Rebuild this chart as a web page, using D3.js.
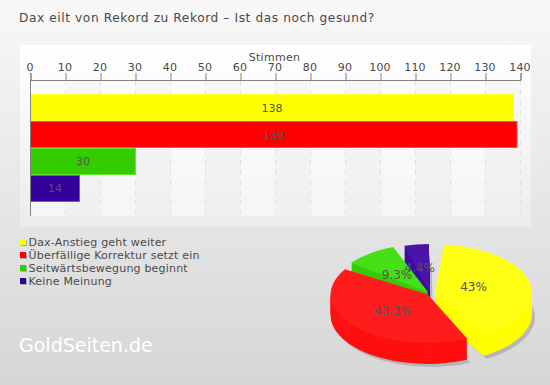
<!DOCTYPE html>
<html>
<head>
<meta charset="utf-8">
<script src="https://cdn.jsdelivr.net/npm/d3@7"></script>
<style>
html, body { margin: 0; padding: 0; overflow: hidden; }
svg { display: block; }
text { font-family: "DejaVu Sans", sans-serif; fill: #4a4a4a; }
</style>
</head>
<body>
<script>
var categories = ['Dax-Anstieg geht weiter', 'Überfällige Korrektur setzt ein', 'Seitwärtsbewegung beginnt', 'Keine Meinung'];
var votes = [138, 139, 30, 14];
var percents = ['43%', '43.3%', '9.3%', '4.4%'];
var xTicks = d3.range(0, 141, 10);
var barColor = ['#ffff00', '#ff0000', '#33cc00', '#330099'];
var barEdge = ['#ffff33', '#ff4d4d', '#66e033', '#7a55c0'];
var topColor = ['#ffff14', '#ff1c1c', '#46e016', '#4a14a8'];
var sideColor = ['#ffff00', '#ff0f0f', '#38cc08', '#3a0ea0'];
var explode = [5, 3, 3, 2];
var labelNudge = [[-4, -1], [-2, 2], [-5, 0], [-4, -3]];

var width = 550, height = 385;
var plot = {left: 30.5, right: 520.5, top: 80, bottom: 216};

var svg = d3.select('body').append('svg')
  .attr('width', width)
  .attr('height', height);

var defs = svg.append('defs');
function gradient(id, c0, c1) {
  var g = defs.append('linearGradient').attr('id', id)
    .attr('x1', 0).attr('y1', 0).attr('x2', 0).attr('y2', 1);
  g.append('stop').attr('offset', 0).attr('stop-color', c0);
  g.append('stop').attr('offset', 1).attr('stop-color', c1);
}
gradient('bg', '#f8f8f8', '#d6d6d6');
gradient('panel', '#ffffff', '#ececec');

svg.append('rect').attr('width', width).attr('height', height).attr('fill', 'url(#bg)');
svg.append('rect').attr('x', 20).attr('y', 45).attr('width', 511).attr('height', 182).attr('fill', 'url(#panel)');

svg.append('text')
  .attr('x', 19).attr('y', 22)
  .style('font-size', '12.2px')
  .style('letter-spacing', '0.58px')
  .text('Dax eilt von Rekord zu Rekord – Ist das noch gesund?');

// scales
var x = d3.scaleLinear().domain([0, 140]).range([plot.left, plot.right]);
var y = d3.scaleBand().domain(categories).range([plot.top, plot.bottom]).paddingInner(0).paddingOuter(0.52);

// stripes + grid
svg.append('rect')
  .attr('x', plot.left).attr('y', plot.top)
  .attr('width', plot.right - plot.left).attr('height', plot.bottom - plot.top)
  .attr('fill', '#fff').attr('opacity', 0.45);

svg.append('g').selectAll('rect')
  .data(xTicks.slice(0, -1).filter(d => d % 20 !== 0))
  .enter()
  .append('rect')
  .attr('x', d => x(d))
  .attr('y', plot.top)
  .attr('width', d => x(d + 10) - x(d))
  .attr('height', plot.bottom - plot.top)
  .attr('fill', '#000')
  .attr('opacity', 0.025);

svg.append('g').selectAll('line')
  .data(xTicks.slice(1))
  .enter()
  .append('line')
  .attr('x1', d => x(d)).attr('x2', d => x(d))
  .attr('y1', plot.top).attr('y2', plot.bottom)
  .attr('stroke', '#e2e2e2')
  .attr('stroke-dasharray', '5,5');

// bars
svg.append('g').selectAll('rect')
  .data(votes)
  .enter()
  .append('rect')
  .attr('x', x(0))
  .attr('y', (d, i) => y(categories[i]) + 0.5)
  .attr('width', d => x(d) - x(0))
  .attr('height', y.bandwidth() - 1)
  .attr('fill', (d, i) => barColor[i])
  .attr('stroke', (d, i) => barEdge[i]);

svg.append('g').selectAll('text')
  .data(votes)
  .enter()
  .append('text')
  .attr('x', d => x(d / 2))
  .attr('y', (d, i) => y(categories[i]) + y.bandwidth() / 2 + 4)
  .attr('text-anchor', 'middle')
  .style('font-size', '11px')
  .style('fill', '#555')
  .text(d => d);

// axis
var xAxis = d3.axisTop(x).tickValues(xTicks).tickSize(7).tickPadding(2);
var axisG = svg.append('g')
  .attr('transform', `translate(0,${plot.top})`)
  .call(xAxis);
axisG.selectAll('path, line').attr('stroke', '#808080');
axisG.selectAll('text')
  .attr('dx', -1)
  .style('font-size', '11px')
  .style('letter-spacing', '0.2px')
  .style('font-family', '"DejaVu Sans", sans-serif');

svg.append('line')
  .attr('x1', plot.left).attr('x2', plot.left)
  .attr('y1', plot.top).attr('y2', plot.bottom)
  .attr('stroke', '#808080');

svg.append('text')
  .attr('x', (plot.left + plot.right) / 2 - 1)
  .attr('y', 61)
  .attr('text-anchor', 'middle')
  .style('font-size', '11px')
  .style('letter-spacing', '0.3px')
  .text('Stimmen');

// legend
var legend = svg.append('g').selectAll('g')
  .data(categories)
  .enter()
  .append('g')
  .attr('transform', (d, i) => `translate(20,${242 + i * 13})`);
legend.append('rect').attr('x', 1).attr('y', -2).attr('width', 6).attr('height', 6).attr('fill', '#aaa');
legend.append('rect').attr('x', 0).attr('y', -3).attr('width', 6).attr('height', 6).attr('fill', (d, i) => barColor[i]);
legend.append('text').attr('x', 8.5).attr('y', 4).style('font-size', '11px').style('letter-spacing', '0.2px').text(d => d);

svg.append('text')
  .attr('x', 19).attr('y', 352)
  .style('font-size', '19px')
  .style('fill', '#fff')
  .text('GoldSeiten.de');

// pie, flattened to look 3d
var cx = 430, cy = 293.5, radius = 97, squash = 0.5, depth = 21;
var start = 5.5 * Math.PI / 180;
var pad = 6 * Math.PI / 180;
var pie = d3.pie().sort(null).startAngle(start).endAngle(start + 2 * Math.PI).padAngle(pad);
var arc = d3.arc().innerRadius(0).outerRadius(radius);
var arcs = pie(votes).map(d => ({
  startAngle: d.startAngle,
  endAngle: d.endAngle - pad
}));

function offset(d, i) {
  var mid = (d.startAngle + d.endAngle) / 2;
  return [cx + explode[i] * Math.sin(mid), cy - explode[i] * Math.cos(mid) * squash];
}

var order = [3, 2, 0, 1];
var pieG = svg.append('g');

order.forEach(function(i) {
  var d = arcs[i], o = offset(d, i);
  pieG.append('path')
    .attr('d', arc(d))
    .attr('transform', `translate(${o[0] + 3},${o[1] + depth + 3}) scale(1,${squash})`)
    .attr('fill', '#999')
    .attr('opacity', 0.55);
});

order.forEach(function(i) {
  var d = arcs[i], o = offset(d, i);
  d3.range(depth, 0, -1).forEach(function(k) {
    pieG.append('path')
      .attr('d', arc(d))
      .attr('transform', `translate(${o[0]},${o[1] + k}) scale(1,${squash})`)
      .attr('fill', sideColor[i]);
  });
  pieG.append('path')
    .attr('d', arc(d))
    .attr('transform', `translate(${o[0]},${o[1]}) scale(1,${squash})`)
    .attr('fill', topColor[i]);
});

svg.append('g').selectAll('text')
  .data(arcs)
  .enter()
  .append('text')
  .attr('x', (d, i) => offset(d, i)[0] + arc.centroid(d)[0] * 0.9 + labelNudge[i][0])
  .attr('y', (d, i) => offset(d, i)[1] + arc.centroid(d)[1] * 0.9 * squash + 4 + labelNudge[i][1])
  .attr('text-anchor', 'middle')
  .style('font-size', '12px')
  .style('fill', '#555')
  .text((d, i) => percents[i]);
</script>
</body>
</html>
